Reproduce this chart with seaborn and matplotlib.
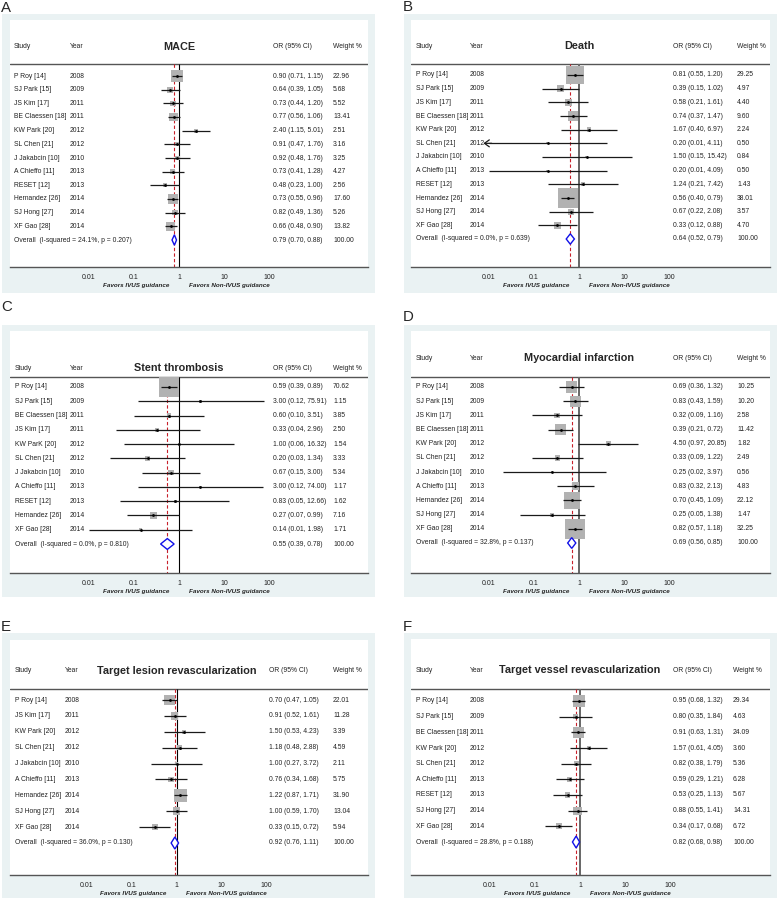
"""
Forest plots (IVUS vs non-IVUS guidance) - six outcomes, Stata metan style.
"""
import numpy as np
import pandas as pd
import matplotlib
matplotlib.use('Agg')
import matplotlib.pyplot as plt
from matplotlib.patches import Rectangle
from matplotlib.ticker import NullLocator
import seaborn as sns

sns.set_style('white')
plt.rcParams['font.family'] = ['Liberation Sans', 'DejaVu Sans']

W, H = 778, 901

# ---------------- data ----------------
mace_study = ['P Roy [14]', 'SJ Park [15]', 'JS Kim [17]', 'BE Claessen [18]', 'KW Park [20]',
              'SL Chen [21]', 'J Jakabcin [10]', 'A Chieffo [11]', 'RESET [12]', 'Hernandez [26]',
              'SJ Hong [27]', 'XF Gao [28]']
mace_year = [2008, 2009, 2011, 2011, 2012, 2012, 2010, 2013, 2013, 2014, 2014, 2014]
mace_or = [0.90, 0.64, 0.73, 0.77, 2.40, 0.91, 0.92, 0.73, 0.48, 0.73, 0.82, 0.66]
mace_lo = [0.71, 0.39, 0.44, 0.56, 1.15, 0.47, 0.48, 0.41, 0.23, 0.55, 0.49, 0.48]
mace_hi = [1.15, 1.05, 1.20, 1.06, 5.01, 1.76, 1.76, 1.28, 1.00, 0.96, 1.36, 0.90]
mace_wt = [22.96, 5.68, 5.52, 13.41, 2.51, 3.16, 3.25, 4.27, 2.56, 17.60, 5.26, 13.82]
mace_overall = (0.79, 0.70, 0.88)
mace_het = (24.1, 0.207)

death_study = ['P Roy [14]', 'SJ Park [15]', 'JS Kim [17]', 'BE Claessen [18]', 'KW Park [20]',
               'SL Chen [21]', 'J Jakabcin [10]', 'A Chieffo [11]', 'RESET [12]', 'Hernandez [26]',
               'SJ Hong [27]', 'XF Gao [28]']
death_year = [2008, 2009, 2011, 2011, 2012, 2012, 2010, 2013, 2013, 2014, 2014, 2014]
death_or = [0.81, 0.39, 0.58, 0.74, 1.67, 0.20, 1.50, 0.20, 1.24, 0.56, 0.67, 0.33]
death_lo = [0.55, 0.15, 0.21, 0.37, 0.40, 0.01, 0.15, 0.01, 0.21, 0.40, 0.22, 0.12]
death_hi = [1.20, 1.02, 1.61, 1.47, 6.97, 4.11, 15.42, 4.09, 7.42, 0.79, 2.08, 0.88]
death_wt = [29.25, 4.97, 4.40, 9.60, 2.24, 0.50, 0.84, 0.50, 1.43, 38.01, 3.57, 4.70]
death_clipped = [False, False, False, False, False, True, False, False, False, False, False, False]
death_overall = (0.64, 0.52, 0.79)
death_het = (0.0, 0.639)

st_study = ['P Roy [14]', 'SJ Park [15]', 'BE Claessen [18]', 'JS Kim [17]', 'KW ParK [20]',
            'SL Chen [21]', 'J Jakabcin [10]', 'A Chieffo [11]', 'RESET [12]', 'Hernandez [26]',
            'XF Gao [28]']
st_year = [2008, 2009, 2011, 2011, 2012, 2012, 2010, 2013, 2013, 2014, 2014]
st_or = [0.59, 3.00, 0.60, 0.33, 1.00, 0.20, 0.67, 3.00, 0.83, 0.27, 0.14]
st_lo = [0.39, 0.12, 0.10, 0.04, 0.06, 0.03, 0.15, 0.12, 0.05, 0.07, 0.01]
st_hi = [0.89, 75.91, 3.51, 2.96, 16.32, 1.34, 3.00, 74.00, 12.66, 0.99, 1.98]
st_wt = [70.62, 1.15, 3.85, 2.50, 1.54, 3.33, 5.34, 1.17, 1.62, 7.16, 1.71]
st_overall = (0.55, 0.39, 0.78)
st_het = (0.0, 0.810)

mi_study = ['P Roy [14]', 'SJ Park [15]', 'JS Kim [17]', 'BE Claessen [18]', 'KW Park [20]',
            'SL Chen [21]', 'J Jakabcin [10]', 'A Chieffo [11]', 'Hernandez [26]', 'SJ Hong [27]',
            'XF Gao [28]']
mi_year = [2008, 2009, 2011, 2011, 2012, 2012, 2010, 2013, 2014, 2014, 2014]
mi_or = [0.69, 0.83, 0.32, 0.39, 4.50, 0.33, 0.25, 0.83, 0.70, 0.25, 0.82]
mi_lo = [0.36, 0.43, 0.09, 0.21, 0.97, 0.09, 0.02, 0.32, 0.45, 0.05, 0.57]
mi_hi = [1.32, 1.59, 1.16, 0.72, 20.85, 1.22, 3.97, 2.13, 1.09, 1.38, 1.18]
mi_wt = [10.25, 10.20, 2.58, 11.42, 1.82, 2.49, 0.56, 4.83, 22.12, 1.47, 32.25]
mi_overall = (0.69, 0.56, 0.85)
mi_het = (32.8, 0.137)

tlr_study = ['P Roy [14]', 'JS Kim [17]', 'KW Park [20]', 'SL Chen [21]', 'J Jakabcin [10]',
             'A Chieffo [11]', 'Hernandez [26]', 'SJ Hong [27]', 'XF Gao [28]']
tlr_year = [2008, 2011, 2012, 2012, 2010, 2013, 2014, 2014, 2014]
tlr_or = [0.70, 0.91, 1.50, 1.18, 1.00, 0.76, 1.22, 1.00, 0.33]
tlr_lo = [0.47, 0.52, 0.53, 0.48, 0.27, 0.34, 0.87, 0.59, 0.15]
tlr_hi = [1.05, 1.61, 4.23, 2.88, 3.72, 1.68, 1.71, 1.70, 0.72]
tlr_wt = [22.01, 11.28, 3.39, 4.59, 2.11, 5.75, 31.90, 13.04, 5.94]
tlr_overall = (0.92, 0.76, 1.11)
tlr_het = (36.0, 0.130)

tvr_study = ['P Roy [14]', 'SJ Park [15]', 'BE Claessen [18]', 'KW Park [20]', 'SL Chen [21]',
             'A Chieffo [11]', 'RESET [12]', 'SJ Hong [27]', 'XF Gao [28]']
tvr_year = [2008, 2009, 2011, 2012, 2012, 2013, 2013, 2014, 2014]
tvr_or = [0.95, 0.80, 0.91, 1.57, 0.82, 0.59, 0.53, 0.88, 0.34]
tvr_lo = [0.68, 0.35, 0.63, 0.61, 0.38, 0.29, 0.25, 0.55, 0.17]
tvr_hi = [1.32, 1.84, 1.31, 4.05, 1.79, 1.21, 1.13, 1.41, 0.68]
tvr_wt = [29.34, 4.63, 24.09, 3.60, 5.36, 6.28, 5.67, 14.31, 6.72]
tvr_overall = (0.82, 0.68, 0.98)
tvr_het = (28.8, 0.188)

tick_vals = [0.01, 0.1, 1, 10, 100]
tick_labels = ['0.01', '0.1', '1', '10', '100']

# ---------------- style / layout (pixels) ----------------
BG = '#EAF2F3'
BOX = '#B2B2B2'
BLUE = '#1010E8'
RED = '#C8202A'
AXC = '#555555'
DECADE = 45.0
ARROW_TIP = 0.0075

LAYOUT = {
    'A': dict(outer=(2, 14, 375, 293), white=(10, 20, 368, 267), x1=179, head=47, line=64,
              row0=76, rowN=240, lab=(1, 8), k=2.4, cols=(14, 70, 273, 333), nullc='k', nulllw=0.8),
    'B': dict(outer=(404, 14, 777, 293), white=(411, 20, 770, 267), x1=579, head=46, line=64,
              row0=75, rowN=239, lab=(403, 7), k=3.24, cols=(416, 470, 673, 737), nullc='#666666', nulllw=1.4),
    'C': dict(outer=(2, 325, 375, 597), white=(10, 331, 368, 573), x1=179, head=368, line=377,
              row0=387, rowN=544, lab=(1, 307), k=2.38, cols=(15, 70, 273, 333), nullc='k', nulllw=0.8),
    'D': dict(outer=(404, 325, 777, 597), white=(411, 331, 770, 573), x1=579, head=358, line=377,
              row0=387, rowN=543, lab=(403, 317), k=3.45, cols=(416, 470, 673, 737), nullc='#666666', nulllw=1.4),
    'E': dict(outer=(2, 633, 375, 898), white=(10, 640, 368, 875), x1=176.5, head=671, line=689,
              row0=700, rowN=843, lab=(1, 627), k=2.2, cols=(15, 65, 269, 333), nullc='k', nulllw=0.8),
    'F': dict(outer=(404, 633, 777, 898), white=(411, 639, 770, 875), x1=580, head=670, line=689,
              row0=701, rowN=842, lab=(403, 627), k=2.2, cols=(416, 470, 673, 733), nullc='#666666', nulllw=1.4),
}


def draw_panel(fig, label, title, study, year, orr, lo, hi, wt, overall, het, clipped=None):
    g = LAYOUT[label]
    ox0, oy0, ox1, oy1 = g['outer']
    fig.patches.append(Rectangle((ox0 / W, 1 - oy1 / H), (ox1 - ox0) / W, (oy1 - oy0) / H,
                                 transform=fig.transFigure, facecolor=BG, edgecolor='none', zorder=-5))
    xl, yt, xr, yb = g['white']
    ax = fig.add_axes([xl / W, 1 - yb / H, (xr - xl) / W, (yb - yt) / H])
    ax.set_zorder(2)
    ax.set_facecolor('white')

    n = len(study)
    step = (g['rowN'] - g['row0']) / n
    to_row = lambda py: (py - g['row0']) / step
    to_x = lambda px: 10 ** ((px - g['x1']) / DECADE)

    df = pd.DataFrame({'study': study, 'year': year, 'OR': orr, 'lo': lo, 'hi': hi,
                       'weight': wt, 'row': np.arange(n)})
    wmax = df['weight'].max()
    area_max = (0.72 * g['k']) ** 2 * wmax

    y_bot, y_line = to_row(yb), to_row(g['line'])

    # reference lines
    ax.axhline(y_line, color=AXC, lw=1.0, zorder=1)
    ax.vlines(1, y_line, y_bot, colors=g['nullc'], lw=g['nulllw'], zorder=1)
    ax.vlines(overall[0], y_line, y_bot, colors=RED, lw=0.8, linestyles=(0, (3, 2)), zorder=1)

    # weight boxes
    sns.scatterplot(data=df, x='OR', y='row', size='weight', sizes=(0, area_max),
                    size_norm=(0, wmax), marker='s', color=BOX, linewidth=0,
                    legend=False, ax=ax, zorder=2)

    # CIs
    clipped = clipped or [False] * n
    for r, l, h, c in zip(df['row'], df['lo'], df['hi'], clipped):
        ax.hlines(r, l, h, colors='#1a1a1a', lw=0.9, zorder=3)
        if c:
            ax.annotate('', xy=(ARROW_TIP, r), xytext=(l * 1.15, r),
                        arrowprops=dict(arrowstyle='->,head_length=0.35,head_width=0.25',
                                        color='#1a1a1a', lw=0.9, shrinkA=0, shrinkB=0),
                        zorder=3)
    ax.plot(df['OR'], df['row'], 'o', color='k', ms=2.0, mec='none', zorder=4)

    # overall diamond
    o, ol, oh = overall
    hd = 0.38
    ax.fill([ol, o, oh, o], [n, n - hd, n, n + hd], facecolor='white',
            edgecolor=BLUE, lw=1.0, zorder=5)

    # text columns
    fs = 4.9
    cx = [to_x(c) for c in g['cols']]
    yh = to_row(g['head'])
    for x, t in zip(cx, ['Study', 'Year', 'OR (95% CI)', 'Weight %']):
        ax.text(x, yh, t, fontsize=fs, ha='left', va='center', color='#222222')
    ax.text(1, yh, title, fontsize=7.8, fontweight='bold', ha='center', va='center')
    for r, row in df.iterrows():
        ax.text(cx[0], r, row['study'], fontsize=fs, ha='left', va='center', color='#222222')
        ax.text(cx[1], r, str(row['year']), fontsize=fs, ha='left', va='center', color='#222222')
        ax.text(cx[2], r, f"{row['OR']:.2f} ({row['lo']:.2f}, {row['hi']:.2f})",
                fontsize=fs, ha='left', va='center', color='#222222')
        ax.text(cx[3], r, f"{row['weight']:.2f}", fontsize=fs, ha='left', va='center', color='#222222')
    ax.text(cx[0], n, f"Overall  (I-squared = {het[0]:.1f}%, p = {het[1]:.3f})",
            fontsize=fs, ha='left', va='center', color='#222222')
    ax.text(cx[2], n, f"{o:.2f} ({ol:.2f}, {oh:.2f})", fontsize=fs, ha='left', va='center', color='#222222')
    ax.text(cx[3], n, '100.00', fontsize=fs, ha='left', va='center', color='#222222')

    # axes
    ax.set_xscale('log')
    ax.set_xlim(to_x(xl), to_x(xr))
    ax.set_ylim(y_bot, to_row(yt))
    ax.set_xticks(tick_vals)
    ax.set_xticklabels(tick_labels)
    ax.xaxis.set_minor_locator(NullLocator())
    ax.tick_params(axis='x', length=0, pad=4.8, labelsize=5.0, colors='#222222')
    ax.set_yticks([])
    ax.set_xlabel('')
    ax.set_ylabel('')
    for side in ['top', 'left', 'right']:
        ax.spines[side].set_visible(False)
    ax.spines['bottom'].set_color(AXC)
    ax.spines['bottom'].set_linewidth(1.0)

    for txt, dx, ha in [('Favors IVUS guidance', -7.2, 'right'),
                        ('Favors Non-IVUS guidance', 7.2, 'left')]:
        ax.annotate(txt, xy=(1, 0), xycoords=('data', 'axes fraction'),
                    xytext=(dx, -13.6), textcoords='offset points', ha=ha, va='center',
                    fontsize=4.5, fontweight='bold', fontstyle='italic', color='#222222',
                    annotation_clip=False)

    lx, ly = g['lab']
    fig.text(lx / W, 1 - ly / H, label, fontsize=10.8, ha='left', va='center')


fig = plt.figure(figsize=(W / 100, H / 100), dpi=100)
fig.patch.set_facecolor('white')

draw_panel(fig, 'A', 'MACE', mace_study, mace_year, mace_or, mace_lo, mace_hi, mace_wt,
           mace_overall, mace_het)
draw_panel(fig, 'B', 'Death', death_study, death_year, death_or, death_lo, death_hi, death_wt,
           death_overall, death_het, clipped=death_clipped)
draw_panel(fig, 'C', 'Stent thrombosis', st_study, st_year, st_or, st_lo, st_hi, st_wt,
           st_overall, st_het)
draw_panel(fig, 'D', 'Myocardial infarction', mi_study, mi_year, mi_or, mi_lo, mi_hi, mi_wt,
           mi_overall, mi_het)
draw_panel(fig, 'E', 'Target lesion revascularization', tlr_study, tlr_year, tlr_or, tlr_lo,
           tlr_hi, tlr_wt, tlr_overall, tlr_het)
draw_panel(fig, 'F', 'Target vessel revascularization', tvr_study, tvr_year, tvr_or, tvr_lo,
           tvr_hi, tvr_wt, tvr_overall, tvr_het)

fig.savefig('out.png', dpi=100)
plt.close(fig)
print("[OK] out.png")
